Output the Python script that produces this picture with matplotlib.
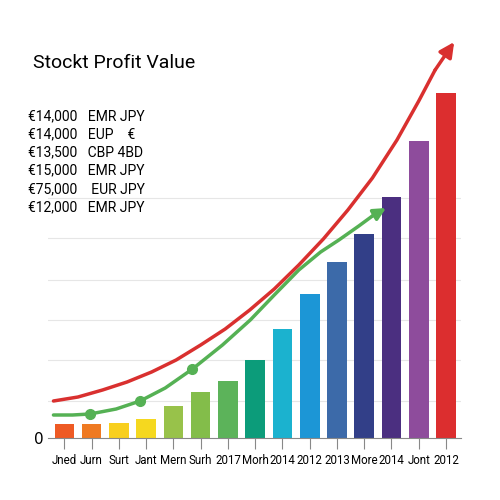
import matplotlib
matplotlib.use("Agg")
import matplotlib.pyplot as plt
import numpy as np

categories = ["Jned","Jurn","Surt","Jant","Mern","Surh","2017","Morh","2014","2012","2013","More","2014","Jont","2012"]
values = [14,14,15,19,32,46,57,78,109,144,176,204,241,297,345]
colors = ["#ee5a24","#ef7a22","#f8cf1e","#f5d81f","#98c24a","#83bd4a","#5cb35a","#0c9c7a","#1bb2cf","#1c96d6","#3c6aa9","#323f88","#4b2f80","#8e4c9c","#dc2e2f"]
legend_lines = ["€14,000   EMR JPY","€14,000   EUP    €","€13,500   CBP 4BD","€15,000   EMR JPY","€75,000    EUR JPY","€12,000   EMR JPY"]
red_x = [-0.4,0.5,1.4,2.3,3.2,4.1,5.0,5.9,6.8,7.7,8.6,9.5,10.4,11.3,12.2,13.0,13.6]
red_y = [37,41,48,56,66,78,93,109,128,149,173,199,228,260,298,337,368]
green_x = [-0.4,0.3,0.94,1.9,2.78,3.7,4.7,5.8,6.82,7.7,8.6,9.4,10.07,10.8,11.3]
green_y = [23,23,24,29,37,50,69,93,118,143,168,186,198,212,222]

fig = plt.figure(figsize=(5,5), dpi=100)
ax = fig.add_axes([0.096,0.124,0.826,0.796])
x = np.arange(len(values))
ax.bar(x, values, color=colors, width=0.72, zorder=2)
ax.set_xlim(-0.6, len(values)-0.45)
ax.set_ylim(0, 398)
for g in [37,78,118,158,200,240]:
    ax.axhline(g, color="#e6e6e6", lw=0.8, zorder=0)
ax.plot(red_x, red_y, color="#d9302f", lw=2.5, zorder=3, solid_capstyle="round")
ax.annotate("", xy=(14.3, 396), xytext=(red_x[-1], red_y[-1]),
            arrowprops=dict(arrowstyle="-|>", color="#d9302f", lw=2.5, mutation_scale=22, shrinkA=0, shrinkB=0), zorder=4)
ax.plot(green_x, green_y, color="#55b154", lw=2.5, zorder=3, solid_capstyle="round")
ax.plot([0.94,2.78,4.7], [24,37,69], "o", color="#55b154", ms=7, zorder=4)
ax.annotate("", xy=(11.8, 230), xytext=(green_x[-1], green_y[-1]),
            arrowprops=dict(arrowstyle="-|>", color="#55b154", lw=2.5, mutation_scale=18, shrinkA=0, shrinkB=0), zorder=4)
ax.set_xticks(x)
ax.set_xticklabels(categories, fontsize=8.3, fontfamily="Roboto")
ax.set_yticks([0])
ax.set_yticklabels(["0"], fontsize=11)
for s in ["top","right","left"]:
    ax.spines[s].set_visible(False)
ax.spines["bottom"].set_color("#888888")
ax.tick_params(axis="x", length=8, color="#888888")
ax.tick_params(axis="y", length=0)
fig.text(0.066, 0.865, "Stockt Profit Value", fontsize=14, fontfamily="Roboto")
for i, t in enumerate(legend_lines):
    fig.text(0.056, 0.76 - i*0.0365, t, fontsize=10, fontfamily="Roboto")
fig.savefig("out.png")
